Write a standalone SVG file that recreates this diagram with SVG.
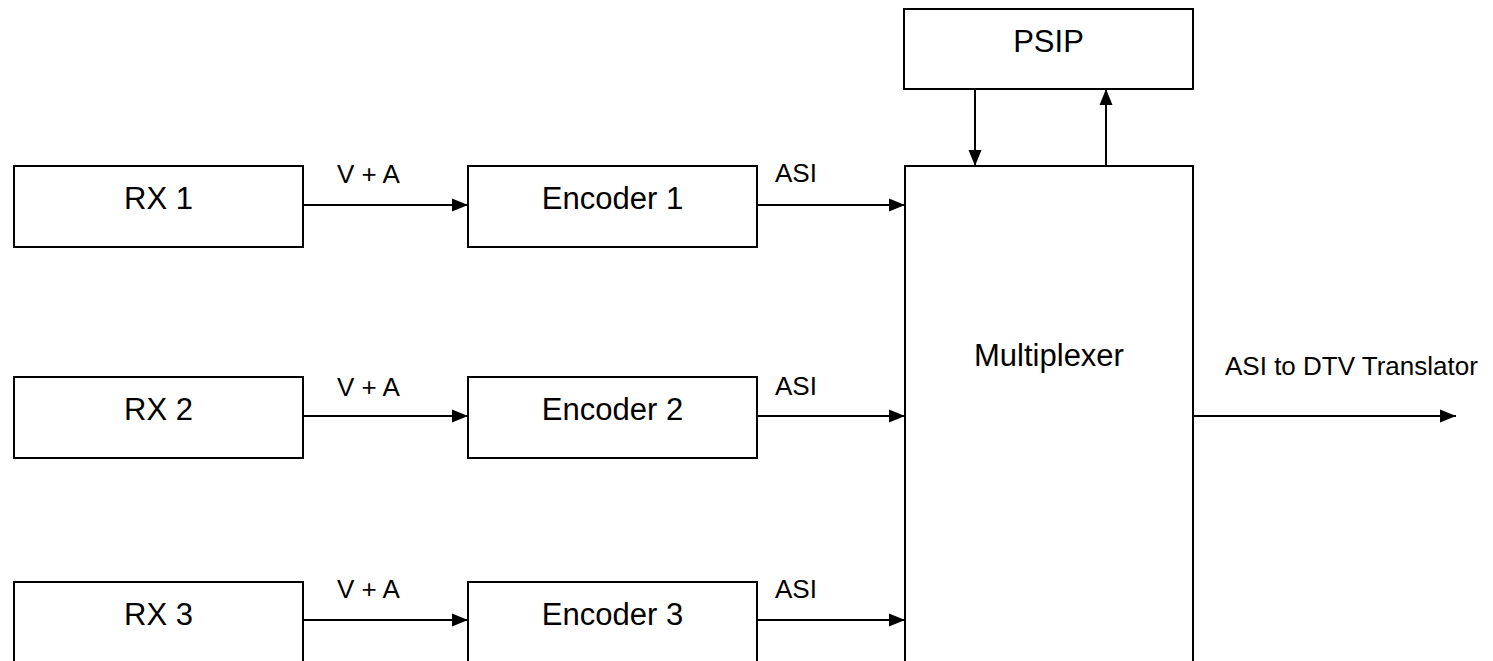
<svg xmlns="http://www.w3.org/2000/svg" width="1493" height="661" viewBox="0 0 1493 661">
<style>
.box{fill:#fff;stroke:#000;stroke-width:2}
.big{font-family:"Liberation Sans",Arial,sans-serif;font-size:31px;fill:#000;text-anchor:middle}
.lbl{font-family:"Liberation Sans",Arial,sans-serif;font-size:26px;fill:#000}
.ln{stroke:#000;stroke-width:2;fill:none;marker-end:url(#ah)}
</style>
<defs>
<marker id="ah" markerUnits="userSpaceOnUse" markerWidth="17" markerHeight="14" refX="16" refY="7" orient="auto">
<path d="M0,0.5 L16,7 L0,13.5 Z" fill="#000"/>
</marker>
</defs>
<rect width="1493" height="661" fill="#fff"/>
<g id="rx1"><rect class="box" x="14" y="166" width="289" height="81"/><text class="big" x="158.5" y="209">RX 1</text></g>
<g id="rx2"><rect class="box" x="14" y="377" width="289" height="81"/><text class="big" x="158.5" y="420">RX 2</text></g>
<g id="rx3"><rect class="box" x="14" y="582" width="289" height="120"/><text class="big" x="158.5" y="625">RX 3</text></g>
<g id="enc1"><rect class="box" x="468" y="166" width="289" height="81"/><text class="big" x="612.5" y="209">Encoder 1</text></g>
<g id="enc2"><rect class="box" x="468" y="377" width="289" height="81"/><text class="big" x="612.5" y="420">Encoder 2</text></g>
<g id="enc3"><rect class="box" x="468" y="582" width="289" height="120"/><text class="big" x="612.5" y="625">Encoder 3</text></g>
<g id="psip"><rect class="box" x="904" y="9" width="289" height="80"/><text class="big" x="1048.5" y="52">PSIP</text></g>
<g id="mux"><rect class="box" x="905" y="166" width="288" height="540"/><text class="big" x="1049" y="366">Multiplexer</text></g>
<g id="connectors">
<line class="ln" x1="303" y1="205" x2="468" y2="205"/>
<line class="ln" x1="303" y1="416" x2="468" y2="416"/>
<line class="ln" x1="303" y1="620" x2="468" y2="620"/>
<line class="ln" x1="757" y1="205" x2="905" y2="205"/>
<line class="ln" x1="757" y1="416" x2="905" y2="416"/>
<line class="ln" x1="757" y1="620" x2="905" y2="620"/>
<line class="ln" x1="975" y1="89" x2="975" y2="166"/>
<line class="ln" x1="1106" y1="166" x2="1106" y2="89"/>
<line class="ln" x1="1193" y1="416" x2="1456" y2="416"/>
<text class="lbl" x="337" y="183">V + A</text>
<text class="lbl" x="337" y="396">V + A</text>
<text class="lbl" x="337" y="598">V + A</text>
<text class="lbl" x="775" y="182">ASI</text>
<text class="lbl" x="775" y="395">ASI</text>
<text class="lbl" x="775" y="598">ASI</text>
<text class="lbl" x="1225" y="375">ASI to DTV Translator</text>
</g>
</svg>
